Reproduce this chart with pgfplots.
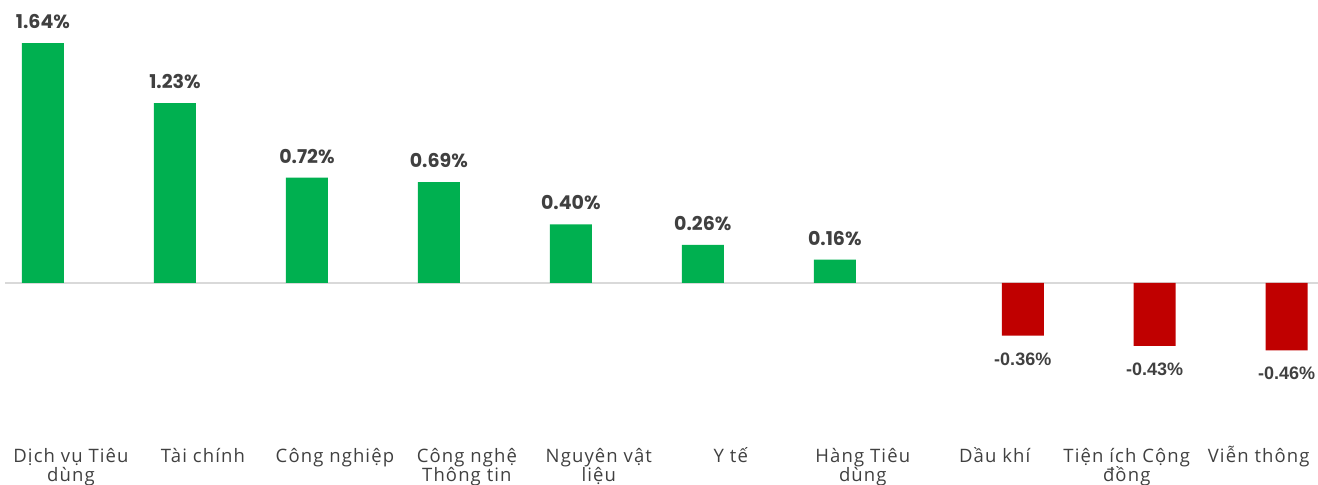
\documentclass[border=0pt]{standalone}
\usepackage{pgfplots}
\pgfplotsset{compat=1.18}
\usepackage{fontspec}
\setmainfont{Open Sans}[LetterSpace=6]
\newfontfamily\numfont{Poppins}
\newfontfamily\negfont{Liberation Sans}
\definecolor{posgreen}{HTML}{00B050}
\definecolor{negred}{HTML}{C00000}
\definecolor{txt}{HTML}{404040}
\definecolor{zline}{HTML}{D9D9D9}
\newcommand\Sx{\rule{0pt}{17bp}}
\begin{document}
\begin{tikzpicture}
\begin{axis}[
  at={(5bp,55bp)}, anchor=south west,
  scale only axis, width=1313bp, height=430bp,
  xmin=-0.5, xmax=9.45, ymin=-1.0048, ymax=1.9344,
  axis line style={draw=none},
  major tick length=0pt,
  ytick=\empty,
  extra y ticks={0}, extra y tick labels={},
  extra y tick style={grid=major, major grid style={draw=zline, line width=1.5bp}},
  xtick={0,...,9},
  xticklabels={{\Sx Dịch vụ Tiêu\\dùng},{\Sx Tài chính},{\Sx Công nghiệp},{\Sx Công nghệ\\Thông tin},{\Sx Nguyên vật\\liệu},{\Sx Y tế},{\Sx Hàng Tiêu\\dùng},{\Sx Dầu khí},{\Sx Tiện ích Cộng\\đồng},{\Sx Viễn thông}},
  xticklabel style={align=center, anchor=north, inner sep=0pt, yshift=-15bp, text=txt,
    font=\fontsize{18.5bp}{19.5bp}\selectfont},
  clip=false,
]
\addplot[ybar, bar width=42bp, bar shift=-28bp, fill=posgreen, draw=none,
  point meta=explicit symbolic, nodes near coords,
  every node near coord/.style={anchor=base, inner sep=0pt, xshift=-28bp, yshift=14.5bp, text=txt,
    font=\numfont\bfseries\fontsize{19bp}{21bp}\selectfont}]
coordinates {(0,1.64) [1.64\%] (1,1.23) [1.23\%] (2,0.72) [0.72\%] (3,0.69) [0.69\%]
  (4,0.40) [0.40\%] (5,0.26) [0.26\%] (6,0.16) [0.16\%]};
\addplot[ybar, bar width=42bp, bar shift=28bp, fill=negred, draw=none,
  point meta=explicit symbolic, nodes near coords,
  every node near coord/.style={anchor=base, inner sep=0pt, xshift=28bp, yshift=-29.5bp, text=txt,
    font=\negfont\bfseries\fontsize{18bp}{20bp}\selectfont}]
coordinates {(7,-0.36) [-0.36\%] (8,-0.43) [-0.43\%] (9,-0.46) [-0.46\%]};
\end{axis}
\pgfresetboundingbox
\path[use as bounding box] (0,0) rectangle (1318bp,485bp);
\end{tikzpicture}
\end{document}
